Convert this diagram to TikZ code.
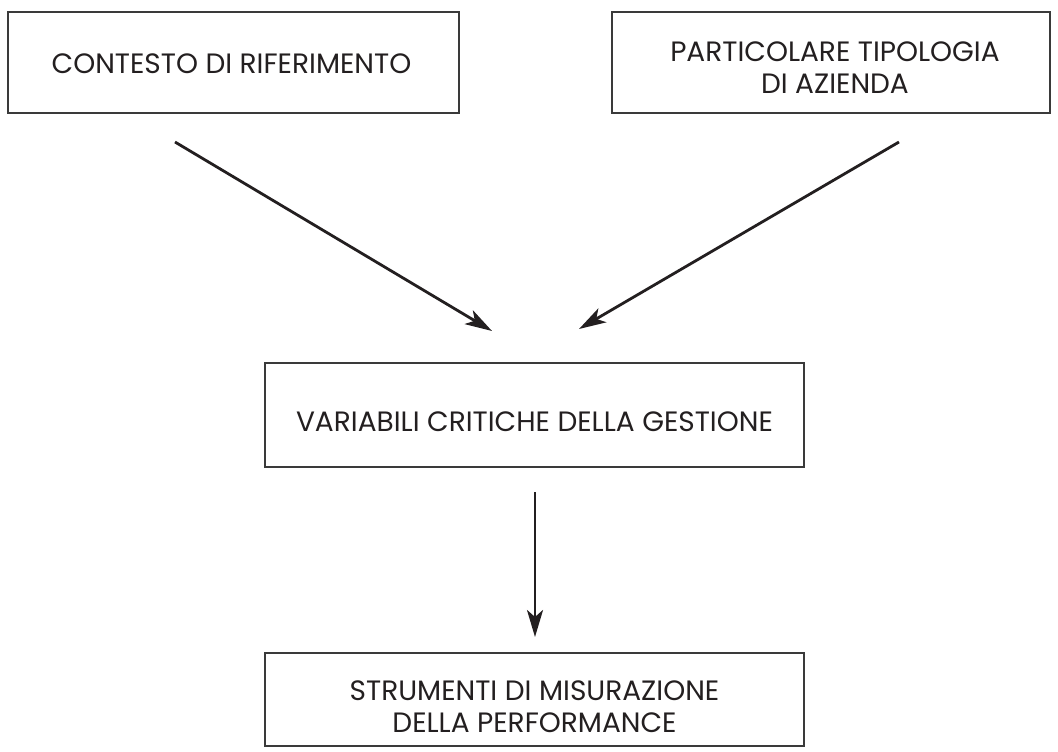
\documentclass[tikz,border=0pt]{standalone}
\usepackage{fontspec}
\setmainfont{Poppins}
\usetikzlibrary{arrows.meta}
\definecolor{ink}{HTML}{231F20}
\definecolor{frame}{HTML}{3A3A3A}
\tikzset{
  box/.style={draw=frame, line width=1.6pt, rectangle, inner sep=0pt, outer sep=0pt},
  lbl/.style={align=center, text=ink, inner sep=0pt, font=\fontsize{28}{32}\selectfont},
  arr/.style={draw=ink, line width=2.8pt, -{Stealth[length=27pt,width=16pt,inset=7pt]}}
}
\begin{document}
\begin{tikzpicture}[x=1pt,y=-1pt]
\useasboundingbox (0,0) rectangle (1058,752);
\node[box, minimum width=451pt, minimum height=101pt] (ctx) at (233.5,62.5) {};
\node[box, minimum width=438pt, minimum height=101pt] (tip) at (831,62.5) {};
\node[box, minimum width=539pt, minimum height=104pt] (var) at (534.5,415) {};
\node[box, minimum width=539pt, minimum height=93pt] (str) at (534.5,699.5) {};
\node[lbl] (ctxt) at ([xshift=-2pt,yshift=-1pt]ctx.center) {CONTESTO DI RIFERIMENTO};
\node[lbl] (tipt) at ([xshift=4pt,yshift=-5pt]tip.center) {PARTICOLARE TIPOLOGIA\\DI AZIENDA};
\node[lbl] (vart) at ([yshift=-7pt]var.center) {VARIABILI CRITICHE DELLA GESTIONE};
\node[lbl] (strt) at ([yshift=-7pt]str.center) {STRUMENTI DI MISURAZIONE\\DELLA PERFORMANCE};
\coordinate (a1s) at (175,142);
\coordinate (a1e) at (492,331);
\coordinate (a2s) at (899,142);
\coordinate (a2e) at (579,329);
\coordinate (a3s) at (535,492);
\coordinate (a3e) at (535,637);
\draw[arr] (a1s) -- (a1e);
\draw[arr] (a2s) -- (a2e);
\draw[arr] (a3s) -- (a3e);
\end{tikzpicture}
\end{document}
